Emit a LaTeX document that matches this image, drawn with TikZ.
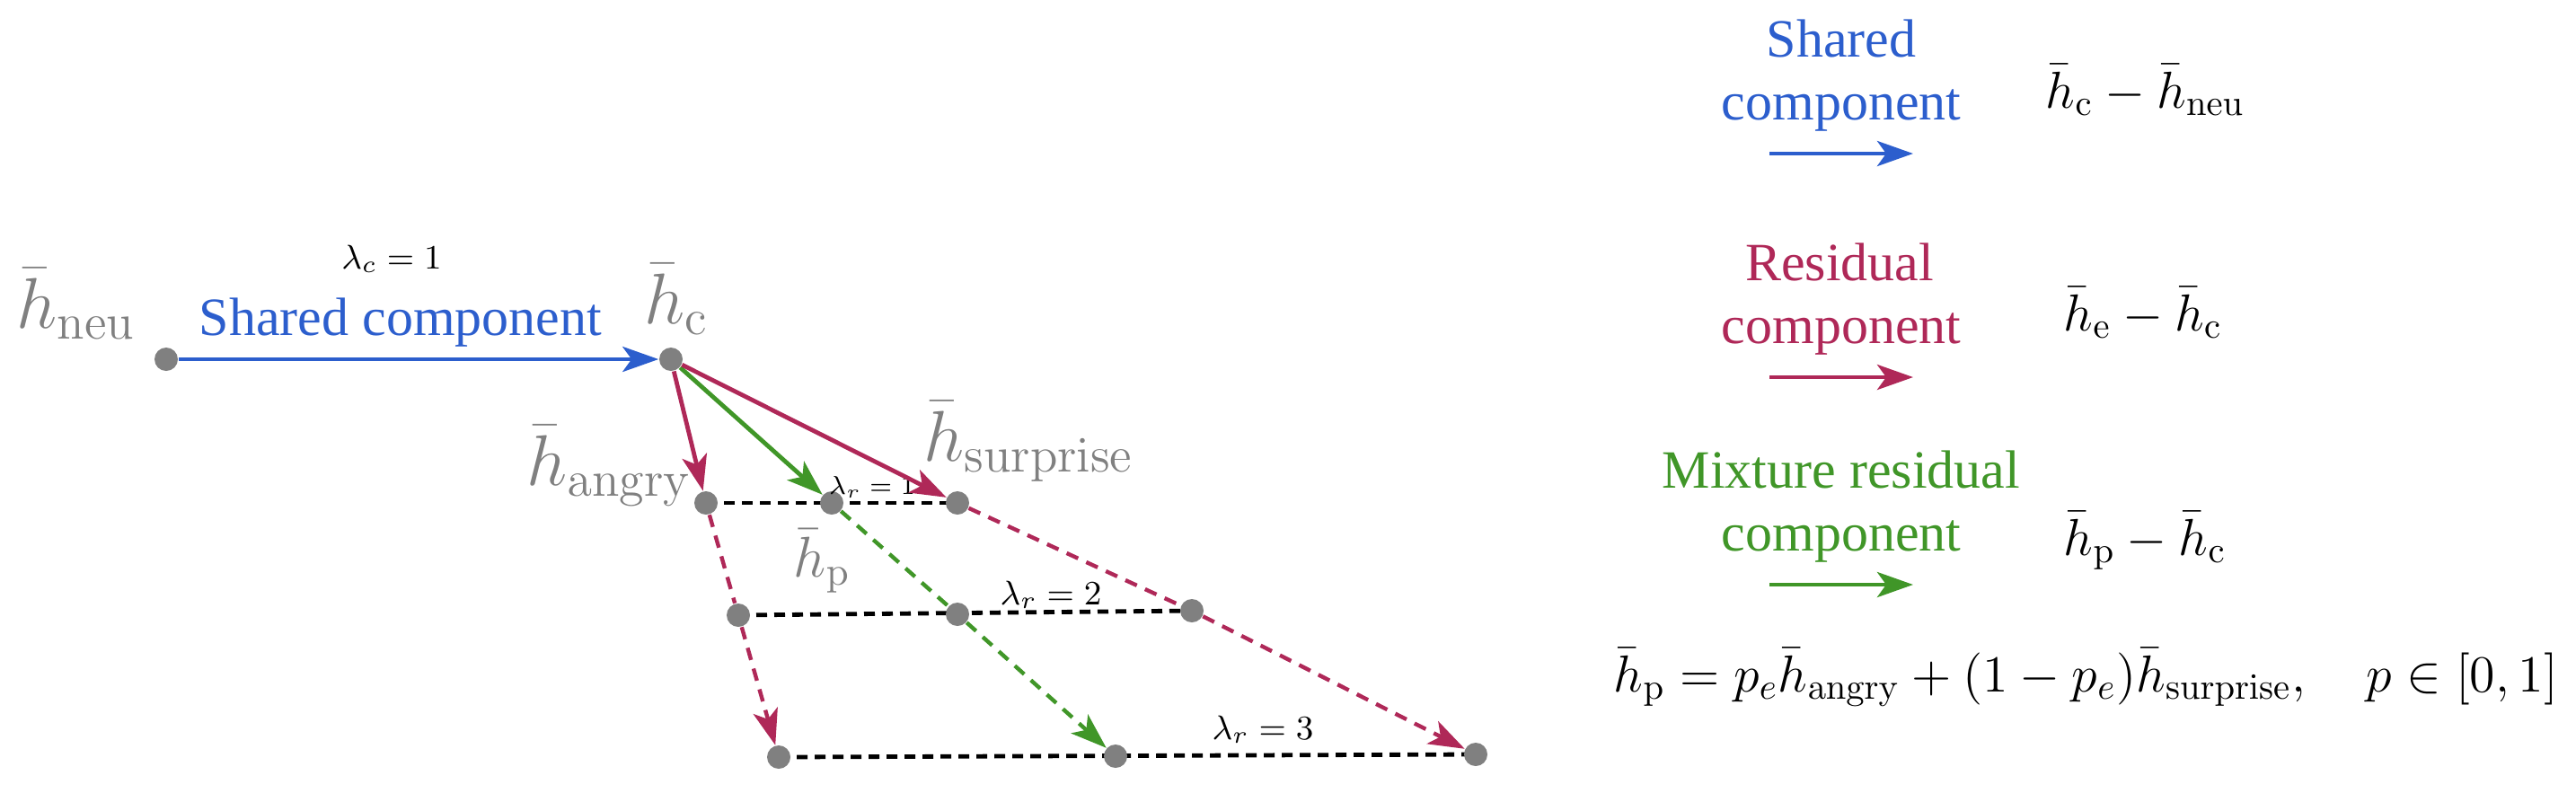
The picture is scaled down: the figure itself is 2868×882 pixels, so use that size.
\RequirePackage{fix-cm}
\documentclass[tikz,border=0pt]{standalone}
\usepackage[no-math]{fontspec}
\setmainfont{Liberation Serif}
\usetikzlibrary{arrows.meta}
\pgfdeclarelayer{bg}
\pgfsetlayers{bg,main}
\definecolor{cblue}{RGB}{44,94,205}
\definecolor{cred}{RGB}{175,40,88}
\definecolor{cgreen}{RGB}{64,150,40}
\definecolor{cgray}{RGB}{128,128,128}
\begin{document}
\begin{tikzpicture}[x=0.25pt,y=-0.25pt,
  dot/.style={circle,fill=cgray,inner sep=0pt,minimum size=6.5pt},
  glabel/.style={text=cgray,inner sep=0pt,font=\fontsize{20}{22}\selectfont},
  lam/.style={inner sep=0pt,font=\fontsize{9.5}{11}\selectfont},
  lamsmall/.style={inner sep=0pt,font=\fontsize{7.2}{8}\selectfont},
  tip/.style={-{Stealth[length=10pt,width=7pt,inset=2.5pt]}},
  solidarrow/.style={line width=1.2pt,tip},
  dasharrow/.style={line width=1.1pt,dash pattern=on 3.5pt off 2.5pt},
  level/.style={line width=1.2pt,black,dash pattern=on 3pt off 2pt},
  legtext/.style={inner sep=0pt,font=\fontsize{15}{17}\selectfont},
  rmath/.style={inner sep=0pt,font=\fontsize{14.5}{17}\selectfont},
]
\useasboundingbox (0,0) rectangle (2868,882);
% dots
\node[dot] (neu) at (185,400) {};
\node[dot] (c) at (747,400) {};
\node[dot] (a1) at (786,560) {};
\node[dot] (p1) at (926,560) {};
\node[dot] (s1) at (1066,560) {};
\node[dot] (a2) at (822,685) {};
\node[dot] (p2) at (1066,684) {};
\node[dot] (s2) at (1327,680) {};
\node[dot] (a3) at (867,843) {};
\node[dot] (p3) at (1242,842) {};
\node[dot] (s3) at (1643,840) {};
% labels
\node[glabel,anchor=base west] (lneu) at (18,365) {$\bar{h}_{\mathrm{neu}}$};
\node[glabel,anchor=base west] (lc) at (717,360) {$\bar{h}_{\mathrm{c}}$};
\node[glabel,anchor=base west] (la) at (586,540) {$\bar{h}_{\mathrm{angry}}$};
\node[glabel,anchor=base west] (ls) at (1028,513) {$\bar{h}_{\mathrm{surprise}}$};
\node[glabel,anchor=base west,font=\fontsize{16}{18}\selectfont] (lp) at (883,642) {$\bar{h}_{\mathrm{p}}$};
\node[legtext,text=cblue,anchor=base] (sc) at (446,373) {Shared component};
\node[lam,anchor=base] (lamc) at (436,299) {$\lambda_c = 1$};
\node[lamsmall,anchor=base] (lr1) at (971,550) {$\lambda_r = 1$};
\node[lam,anchor=base] (lr2) at (1170,673) {$\lambda_r = 2$};
\node[lam,anchor=base] (lr3) at (1406,823) {$\lambda_r = 3$};
% legend
\node[legtext,text=cblue,anchor=base] (t1) at (2050,63) {Shared};
\node[legtext,text=cblue,anchor=base] (t2) at (2050,133) {component};
\coordinate (b1) at (1970,171); \coordinate (b2) at (2130,171);
\draw[solidarrow,cblue] (b1) -- (b2);
\node[rmath,anchor=base west] (m1) at (2277,120) {$\bar{h}_{\mathrm{c}} - \bar{h}_{\mathrm{neu}}$};
\node[legtext,text=cred,anchor=base] (t3) at (2048,312) {Residual};
\node[legtext,text=cred,anchor=base] (t4) at (2050,382) {component};
\coordinate (r1) at (1970,420); \coordinate (r2) at (2130,420);
\draw[solidarrow,cred] (r1) -- (r2);
\node[rmath,anchor=base west] (m2) at (2297,368) {$\bar{h}_{\mathrm{e}} - \bar{h}_{\mathrm{c}}$};
\node[legtext,text=cgreen,anchor=base] (t5) at (2050,543) {Mixture residual};
\node[legtext,text=cgreen,anchor=base] (t6) at (2050,613) {component};
\coordinate (g1) at (1970,651); \coordinate (g2) at (2130,651);
\draw[solidarrow,cgreen] (g1) -- (g2);
\node[rmath,anchor=base west] (m3) at (2297,618) {$\bar{h}_{\mathrm{p}} - \bar{h}_{\mathrm{c}}$};
\node[rmath,anchor=base west] (eq) at (1796,770) {$\bar{h}_{\mathrm{p}} = p_e\bar{h}_{\mathrm{angry}} + (1-p_e)\bar{h}_{\mathrm{surprise}},\quad p\in[0,1]$};
% connectors
\begin{pgfonlayer}{bg}
\draw[level] (a1.center) -- (s1.center);
\draw[level] (a2.center) -- (s2.center);
\draw[level] (a3.center) -- (s3.center);
\draw[dasharrow,cred] (a1) -- (a2);
\draw[dasharrow,cred,tip] (a2) -- (a3);
\draw[dasharrow,cgreen] (p1) -- (p2);
\draw[dasharrow,cgreen,tip] (p2) -- (p3);
\draw[dasharrow,cred] (s1) -- (s2);
\draw[dasharrow,cred,tip] (s2) -- (s3);
\end{pgfonlayer}
\draw[solidarrow,cblue] (neu) -- (c);
\draw[solidarrow,cred] (c) -- (a1);
\draw[solidarrow,cgreen] (c) -- (p1);
\draw[solidarrow,cred] (c) -- (s1);
\end{tikzpicture}
\end{document}
